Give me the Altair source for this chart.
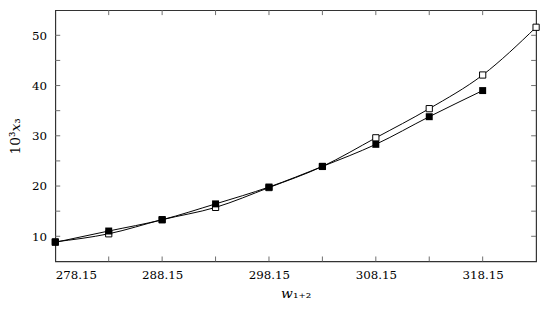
import altair as alt
import pandas as pd

T_open = [278.15, 283.15, 288.15, 293.15, 298.15, 303.15, 308.15, 313.15, 318.15, 323.15]
open_vals = [8.9, 10.5, 13.3, 15.75, 19.7, 23.9, 29.6, 35.4, 42.1, 51.6]
T_filled = [278.15, 283.15, 288.15, 293.15, 298.15, 303.15, 308.15, 313.15, 318.15]
filled_vals = [8.8, 11.05, 13.3, 16.45, 19.8, 23.9, 28.3, 33.8, 39.0]

x_labels = [278.15, 288.15, 298.15, 308.15, 318.15]
x_ticks = [283.15, 288.15, 293.15, 298.15, 303.15, 308.15, 313.15, 318.15]
y_labels = [10, 20, 30, 40, 50]
y_ticks = [10, 15, 20, 25, 30, 35, 40, 45, 50]
x_min, x_max = 278.15, 323.15
y_min, y_max = 5, 55

df_open = pd.DataFrame({"T": T_open, "v": open_vals})
df_filled = pd.DataFrame({"T": T_filled, "v": filled_vals})

FONT = "DejaVu Serif"
xs = alt.Scale(domain=[x_min, x_max], nice=False, zero=False)
ys = alt.Scale(domain=[y_min, y_max], nice=False, zero=False)
TICK_COL = "#6e6e6e"
TL = 5
W, H = 488, 255

A = alt.Chart(df_open).mark_line(color="black", strokeWidth=1, interpolate="monotone").encode(
    x=alt.X("T:Q", scale=xs, axis=alt.Axis(orient="bottom", values=x_labels, format=".2f",
                                           ticks=False, domain=False, grid=False, labelPadding=8,
                                           title="𝑤₁₊₂", titlePadding=7)),
    y=alt.Y("v:Q", scale=ys, axis=alt.Axis(orient="left", values=y_labels, ticks=False,
                                           domain=False, grid=False, labelPadding=9,
                                           title="10³𝑥₃", titlePadding=9)),
)
B = alt.Chart(df_open).mark_point(shape="square", filled=True, fill="white", stroke="black",
                                  strokeWidth=1, size=40, opacity=1).encode(
    x=alt.X("T:Q"), y=alt.Y("v:Q"))
C = alt.Chart(df_filled).mark_line(color="black", strokeWidth=1, interpolate="monotone").encode(
    x=alt.X("T:Q"), y=alt.Y("v:Q"))
D = alt.Chart(df_filled).mark_square(color="black", size=50, opacity=1).encode(
    x=alt.X("T:Q"), y=alt.Y("v:Q"))

xt_data = alt.Data(values=[{"T": t} for t in x_ticks])
yt_data = alt.Data(values=[{"v": v} for v in y_ticks])

tb = alt.Chart(xt_data).mark_rule(color=TICK_COL, strokeWidth=1).encode(
    x=alt.X("T:Q"), y=alt.value(H), y2=alt.value(H - TL))
tt = alt.Chart(xt_data).mark_rule(color=TICK_COL, strokeWidth=1).encode(
    x=alt.X("T:Q"), y=alt.value(0), y2=alt.value(TL))
tl = alt.Chart(yt_data).mark_rule(color=TICK_COL, strokeWidth=1).encode(
    y=alt.Y("v:Q"), x=alt.value(0), x2=alt.value(TL))
tr = alt.Chart(yt_data).mark_rule(color=TICK_COL, strokeWidth=1).encode(
    y=alt.Y("v:Q"), x=alt.value(W), x2=alt.value(W - TL))

chart = alt.layer(A, tb, tt, tl, tr, B, C, D).properties(
    width=W, height=H,
    autosize=alt.AutoSizeParams(type="none"),
    padding={"left": 48, "top": 0, "right": 6, "bottom": 40},
).configure_view(stroke="#333333", strokeWidth=1.2).configure_axis(
    labelFont=FONT, titleFont=FONT, labelFontSize=12, titleFontSize=14,
    labelColor="black", titleColor="black", titleFontWeight="normal",
)

chart.save("out.html", embed_options={"renderer": "svg", "actions": False})
